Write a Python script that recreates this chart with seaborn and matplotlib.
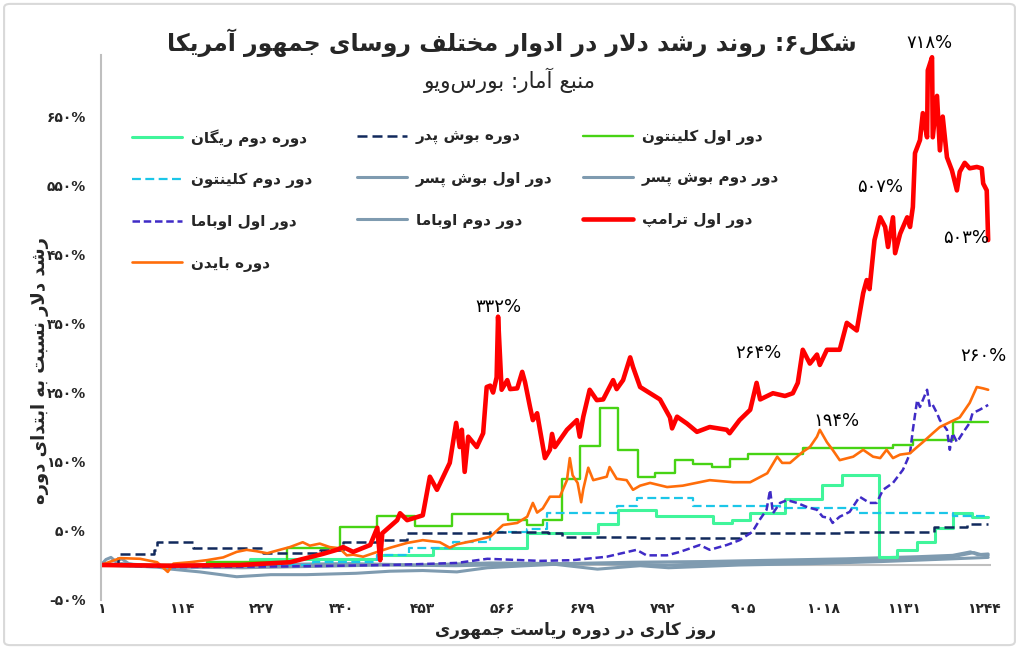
import matplotlib
matplotlib.use("Agg")
import matplotlib.pyplot as plt
import seaborn as sns
import pandas as pd
from matplotlib.patches import FancyBboxPatch

# ---------------- data ----------------
x_ticks = [1, 114, 227, 340, 453, 566, 679, 792, 905, 1018, 1131, 1244]
y_ticks = [-50, 50, 150, 250, 350, 450, 550, 650]

# (day, growth %)
trump1 = [(1, 0), (100, -1), (197, 0), (267, 4), (290, 10), (313, 16), (333, 22), (342, 26),
          (356, 19), (380, 29), (390, 54), (394, 7), (397, 46), (418, 65), (422, 75), (432, 65),
          (454, 72), (464, 128), (474, 109), (492, 148), (501, 206), (506, 171), (509, 196),
          (513, 135), (518, 186), (530, 171), (539, 191), (544, 258), (549, 260), (553, 250),
          (558, 272), (560, 360), (565, 254), (573, 268), (577, 255), (587, 256), (594, 280),
          (598, 265), (605, 229), (609, 210), (615, 220), (619, 196), (626, 155), (633, 167),
          (636, 190), (640, 171), (657, 196), (671, 210), (675, 186), (680, 215), (689, 254),
          (699, 239), (708, 240), (722, 268), (727, 255), (736, 268), (746, 301), (750, 287),
          (760, 258), (774, 249), (788, 240), (802, 214), (805, 198), (812, 215), (826, 205),
          (840, 193), (858, 200), (882, 196), (886, 191), (900, 210), (915, 225), (924, 264),
          (929, 240), (947, 249), (964, 245), (975, 249), (982, 264), (989, 312), (999, 292),
          (1009, 305), (1013, 290), (1023, 312), (1041, 312), (1051, 351), (1065, 340),
          (1074, 394), (1079, 413), (1083, 400), (1090, 471), (1098, 504), (1105, 490),
          (1109, 461), (1116, 504), (1119, 452), (1126, 480), (1136, 504), (1140, 490),
          (1144, 519), (1147, 597), (1154, 616), (1158, 655), (1164, 620), (1165, 717),
          (1171, 736), (1172, 620), (1178, 680), (1182, 601), (1186, 650), (1192, 591),
          (1199, 572), (1206, 543), (1210, 570), (1217, 583), (1224, 575), (1234, 577),
          (1241, 575), (1243, 553), (1248, 543), (1250, 471)]

biden = [(1, 0), (28, 10), (56, 9), (80, 4), (95, -10), (103, 2), (126, 4), (150, 7), (173, 11),
         (192, 19), (206, 22), (220, 20), (235, 17), (249, 21), (267, 26), (285, 33), (295, 28),
         (309, 31), (323, 26), (337, 24), (347, 14), (356, 15), (370, 12), (390, 19), (408, 25),
         (432, 32), (454, 36), (478, 33), (492, 25), (502, 30), (525, 35), (549, 41), (567, 58),
         (587, 61), (601, 70), (609, 90), (615, 76), (623, 82), (633, 99), (647, 99), (657, 123),
         (661, 155), (665, 130), (672, 119), (677, 91), (680, 110), (687, 141), (694, 123),
         (713, 128), (717, 142), (727, 125), (741, 123), (750, 109), (760, 115), (774, 119),
         (798, 113), (820, 115), (858, 123), (891, 120), (915, 120), (939, 133), (953, 157),
         (960, 148), (971, 148), (989, 164), (999, 171), (1009, 186), (1013, 196), (1023, 178),
         (1031, 167), (1041, 152), (1060, 157), (1074, 167), (1088, 157), (1098, 155),
         (1107, 167), (1116, 155), (1126, 160), (1140, 162), (1150, 171), (1158, 178),
         (1172, 191), (1182, 200), (1196, 207), (1210, 214), (1224, 235), (1234, 258),
         (1243, 256), (1250, 254)]

# step series (value holds until next day)
clinton1 = [(1, 0), (150, 5), (263, 25), (337, 55), (390, 71), (443, 56), (495, 74), (574, 65),
            (601, 58), (623, 65), (650, 125), (675, 172), (703, 228), (729, 167), (757, 128),
            (781, 133), (809, 152), (834, 146), (861, 142), (886, 154), (912, 161), (989, 170),
            (1116, 174), (1144, 181), (1200, 207), (1250, 207)]

reagan2 = [(1, 0), (211, 8), (390, 14), (468, 25), (601, 46), (701, 59), (729, 80), (783, 71),
           (862, 61), (889, 65), (915, 75), (964, 96), (1016, 116), (1044, 130), (1096, 12),
           (1121, 22), (1150, 33), (1175, 54), (1200, 75), (1227, 69), (1250, 69)]

clinton2 = [(1, 0), (300, 4), (390, 14), (435, 24), (497, 33), (549, 48), (601, 52), (629, 75),
            (728, 86), (755, 97), (834, 86), (957, 83), (1065, 75), (1200, 71), (1250, 71)]

bush_sr = [(1, 0), (25, 16), (76, 22), (80, 33), (131, 25), (229, 17), (300, 17), (309, 22),
           (342, 33), (390, 36), (432, 46), (549, 48), (630, 46), (650, 41), (760, 39), (900, 46),
           (1041, 48), (1174, 55), (1220, 59), (1250, 60)]

obama1 = [(1, 0), (100, -3), (267, -2), (408, 0), (502, 3), (545, 9), (619, 6), (665, 7),
          (713, 12), (755, 22), (769, 14), (798, 14), (816, 19), (844, 29), (858, 22), (882, 29),
          (900, 36), (918, 48), (928, 65), (938, 80), (943, 109), (947, 75), (957, 90), (967, 94),
          (981, 90), (995, 84), (1009, 80), (1017, 70), (1027, 68), (1031, 61), (1041, 70),
          (1055, 77), (1069, 99), (1083, 90), (1093, 90), (1102, 109), (1116, 119), (1130, 138),
          (1136, 152), (1140, 162), (1144, 196), (1150, 239), (1154, 229), (1158, 239),
          (1164, 254), (1168, 229), (1172, 232), (1178, 220), (1182, 210), (1192, 196),
          (1196, 167), (1200, 191), (1206, 178), (1214, 191), (1224, 206), (1228, 220),
          (1238, 225), (1250, 232)]

bush_jr1 = [(1, 0), (8, 8), (15, 11), (22, 5), (30, 9), (40, 2), (60, -2), (80, -3), (100, -6),
            (140, -10), (192, -17), (240, -14), (290, -14), (360, -12), (408, -9), (454, -8),
            (502, -10), (545, -4), (600, -1), (640, 1), (700, -6), (760, -1), (800, -4),
            (900, 0), (1000, 2), (1100, 5), (1200, 9), (1250, 11)]

bush_jr2 = [(1, 0), (50, -2), (100, -3), (200, -4), (300, -2), (400, 0), (500, -1), (600, 1),
            (700, 2), (800, 0), (900, 3), (1000, 5), (1100, 8), (1200, 12), (1230, 18),
            (1240, 15), (1250, 14)]

obama2 = [(1, 0), (30, 2), (80, -1), (150, 0), (250, 1), (350, 2), (450, 0), (550, 3), (650, 2),
          (750, 4), (850, 5), (950, 7), (1050, 9), (1150, 12), (1200, 14), (1225, 19),
          (1235, 15), (1250, 16)]

# annotation texts with their spot (day, %)
notes = [("۷۱۸%", 1168, 757), ("۵۰۷%", 1098, 548), ("۵۰۳%", 1219, 474), ("۳۳۲%", 560, 374),
         ("۲۶۴%", 926, 307), ("۱۹۴%", 1037, 209), ("۲۶۰%", 1243, 303)]

title = "شکل۶: روند رشد دلار در ادوار مختلف روسای جمهور آمریکا"
subtitle = "منبع آمار: بورس\u200cویو"
y_title = "رشد دلار نسبت به ابتدای دوره"
x_title = "روز کاری در دوره ریاست جمهوری"

# ---------------- simple persian shaping (matplotlib has no RTL support) ----------------
FORMS = {
    'ا': ('\uFE8D', '\uFE8E', None, None), 'آ': ('\uFE81', '\uFE82', None, None),
    'ب': ('\uFE8F', '\uFE90', '\uFE91', '\uFE92'), 'پ': ('\uFB56', '\uFB57', '\uFB58', '\uFB59'),
    'ت': ('\uFE95', '\uFE96', '\uFE97', '\uFE98'), 'ث': ('\uFE99', '\uFE9A', '\uFE9B', '\uFE9C'),
    'ج': ('\uFE9D', '\uFE9E', '\uFE9F', '\uFEA0'), 'چ': ('\uFB7A', '\uFB7B', '\uFB7C', '\uFB7D'),
    'ح': ('\uFEA1', '\uFEA2', '\uFEA3', '\uFEA4'), 'خ': ('\uFEA5', '\uFEA6', '\uFEA7', '\uFEA8'),
    'د': ('\uFEA9', '\uFEAA', None, None), 'ذ': ('\uFEAB', '\uFEAC', None, None),
    'ر': ('\uFEAD', '\uFEAE', None, None), 'ز': ('\uFEAF', '\uFEB0', None, None),
    'ژ': ('\uFB8A', '\uFB8B', None, None),
    'س': ('\uFEB1', '\uFEB2', '\uFEB3', '\uFEB4'), 'ش': ('\uFEB5', '\uFEB6', '\uFEB7', '\uFEB8'),
    'ص': ('\uFEB9', '\uFEBA', '\uFEBB', '\uFEBC'), 'ع': ('\uFEC9', '\uFECA', '\uFECB', '\uFECC'),
    'ف': ('\uFED1', '\uFED2', '\uFED3', '\uFED4'), 'ق': ('\uFED5', '\uFED6', '\uFED7', '\uFED8'),
    'ک': ('\uFB8E', '\uFB8F', '\uFB90', '\uFB91'), 'گ': ('\uFB92', '\uFB93', '\uFB94', '\uFB95'),
    'ل': ('\uFEDD', '\uFEDE', '\uFEDF', '\uFEE0'), 'م': ('\uFEE1', '\uFEE2', '\uFEE3', '\uFEE4'),
    'ن': ('\uFEE5', '\uFEE6', '\uFEE7', '\uFEE8'), 'و': ('\uFEED', '\uFEEE', None, None),
    'ه': ('\uFEE9', '\uFEEA', '\uFEEB', '\uFEEC'), 'ی': ('\uFBFC', '\uFBFD', '\uFBFE', '\uFBFF'),
}
LAM_ALEF = {'ا': ('\uFEFB', '\uFEFC'), 'آ': ('\uFEF5', '\uFEF6')}


def fa(text):
    out = []
    i = 0
    while i < len(text):
        c = text[i]
        if c not in FORMS:
            if c != '\u200c':
                out.append(c)
            i += 1
            continue
        prev = text[i - 1] if i > 0 else None
        nxt = text[i + 1] if i + 1 < len(text) else None
        join_prev = prev in FORMS and FORMS[prev][2] is not None
        if c == 'ل' and nxt in LAM_ALEF:
            out.append(LAM_ALEF[nxt][1 if join_prev else 0])
            i += 2
            continue
        join_next = FORMS[c][2] is not None and nxt in FORMS
        iso, fin, ini, med = FORMS[c]
        if join_prev and join_next:
            out.append(med)
        elif join_prev:
            out.append(fin)
        elif join_next:
            out.append(ini)
        else:
            out.append(iso)
        i += 1
    return ''.join(out[::-1])


def fa_num(n):
    return str(n).translate(str.maketrans('0123456789', '۰۱۲۳۴۵۶۷۸۹'))


def to_df(pairs):
    return pd.DataFrame(pairs, columns=['day', 'growth'])


# ---------------- figure ----------------
sns.set_theme(style="white")
plt.rcParams['font.family'] = ['DejaVu Sans']

fig = plt.figure(figsize=(10.19, 6.49), dpi=100)
ax = fig.add_axes([101 / 1019, 1 - 599.5 / 649, 890 / 1019, 545 / 649])

fig.patches.append(FancyBboxPatch((0.004, 0.006), 0.992, 0.988, boxstyle="round,pad=0,rounding_size=0.006",
                                  transform=fig.transFigure, fill=False, edgecolor='#d9d9d9', lw=1.5))

ax.axhline(0, color='#bfbfbf', lw=1.5, zorder=1)

gray = '#7f9bb0'
series = [
    (bush_jr1, "دور اول بوش پسر", gray, 2.2, '-', False),
    (bush_jr2, "دور دوم بوش پسر", gray, 2.2, '-', False),
    (obama2, "دور دوم اوباما", gray, 2.2, '-', False),
    (reagan2, "دوره دوم ریگان", '#40f59b', 2.2, '-', True),
    (clinton1, "دور اول کلینتون", '#47d314', 1.7, '-', True),
    (clinton2, "دور دوم کلینتون", '#1bc6e8', 1.6, (0, (4, 2)), True),
    (bush_sr, "دوره بوش پدر", '#11295c', 1.8, (0, (4, 2)), True),
    (obama1, "دور اول اوباما", '#3f2bc6', 1.8, (0, (3, 1.5)), False),
    (biden, "دوره بایدن", '#ff6d0a', 1.9, '-', False),
    (trump1, "دور اول ترامپ", '#ff0000', 3.3, '-', False),
]

handles = {}
for pairs, name, color, lw, ls, steps in series:
    df = to_df(pairs)
    sns.lineplot(data=df, x='day', y='growth', ax=ax, color=color, lw=lw, linestyle=ls,
                 drawstyle='steps-post' if steps else 'default', label=name, legend=False)
    handles[name] = ax.lines[-1]

ax.set_xlim(1, 1254)
ax.set_ylim(-50, 740)
ax.set_xticks(x_ticks)
ax.set_xticklabels([fa_num(t) for t in x_ticks], fontsize=10, fontweight='bold')
ax.set_yticks(y_ticks)
ax.set_yticklabels([fa_num(t) + '%' for t in y_ticks], fontsize=10, fontweight='bold')
ax.tick_params(axis='x', length=0, pad=2)
ax.tick_params(axis='y', length=0, pad=11)
ax.set_xlabel('')
ax.set_ylabel('')
for s in ['top', 'right', 'bottom']:
    ax.spines[s].set_visible(False)
ax.spines['left'].set_color('#bfbfbf')
ax.spines['left'].set_linewidth(1.5)

for txt, d, v in notes:
    ax.text(d, v, txt, ha='center', va='center', fontsize=13, color='black')

# legend: three columns, rows read left to right
columns = [
    ["دوره دوم ریگان", "دور دوم کلینتون", "دور اول اوباما", "دوره بایدن"],
    ["دوره بوش پدر", "دور اول بوش پسر", "دور دوم اوباما"],
    ["دور اول کلینتون", "دور دوم بوش پسر", "دور اول ترامپ"],
]
col_x = [132, 357, 583]
for names, cx in zip(columns, col_x):
    leg = fig.legend([handles[n] for n in names], [fa(n) for n in names],
                     loc='upper left', bbox_to_anchor=(cx / 1019, 1 - 129 / 649),
                     frameon=False, borderpad=0, borderaxespad=0, handlelength=3.25,
                     handletextpad=0.6, labelspacing=1.68,
                     prop={'size': 11, 'weight': 'bold'})

fig.text(512 / 1019, 1 - 43 / 649, fa(title), ha='center', va='center', fontsize=17, fontweight='bold')
fig.text(510 / 1019, 1 - 80 / 649, fa(subtitle), ha='center', va='center', fontsize=15.5)
fig.text(40 / 1019, 1 - 370 / 649, fa(y_title), ha='center', va='center', rotation=90,
         fontsize=13, fontweight='bold')
fig.text(576 / 1019, 1 - 630 / 649, fa(x_title), ha='center', va='center', fontsize=12, fontweight='bold')

fig.savefig('out.png', dpi=100)
